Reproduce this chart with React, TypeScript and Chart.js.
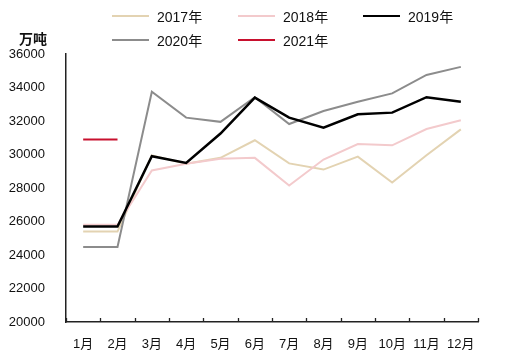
import React, { useEffect, useRef } from "react";
import { Chart, registerables } from "chart.js";

Chart.register(...registerables);

const months = ["1月", "2月", "3月", "4月", "5月", "6月", "7月", "8月", "9月", "10月", "11月", "12月"];
const y2017 = [25400, 25400, 29950, 29450, 29800, 30850, 29470, 29100, 29870, 28330, 29950, 31500];
const y2018 = [25800, 25800, 29050, 29450, 29750, 29800, 28150, 29700, 30620, 30550, 31520, 32050];
const y2019 = [25700, 25700, 29900, 29500, 31250, 33400, 32200, 31600, 32400, 32500, 33420, 33150];
const y2020 = [24480, 24480, 33750, 32200, 31950, 33420, 31820, 32600, 33150, 33650, 34750, 35230];
const y2021 = [30900, 30900];
const yTicks = [20000, 22000, 24000, 26000, 28000, 30000, 32000, 34000, 36000];

const seriesNames = ["2017年", "2018年", "2019年", "2020年", "2021年"];
const seriesColors = ["#E3D3B2", "#F3CACC", "#000000", "#8C8C8C", "#C8102E"];
const seriesWidths = [2, 2, 2.5, 2, 2];
const seriesData = [y2017, y2018, y2019, y2020, y2021];
const seriesOrder = [5, 4, 2, 3, 1];

const tickMarks = {
  id: "tickMarks",
  afterDraw(chart: any) {
    const x = chart.scales.x;
    const ctx = chart.ctx;
    const bottom = chart.chartArea.bottom;
    const n = months.length;
    const step = x.getPixelForValue(1) - x.getPixelForValue(0);
    ctx.save();
    ctx.strokeStyle = "#222";
    ctx.lineWidth = 1.3;
    ctx.beginPath();
    for (let i = 0; i <= n; i++) {
      const px = Math.round(x.getPixelForValue(0) - step / 2 + i * step) + 0.5;
      ctx.moveTo(px, bottom);
      ctx.lineTo(px, bottom - 4);
    }
    ctx.stroke();
    ctx.restore();
  },
};

export default function App() {
  const ref = useRef<HTMLCanvasElement>(null);
  useEffect(() => {
    const chart = new Chart(ref.current as HTMLCanvasElement, {
      type: "line",
      data: {
        labels: months,
        datasets: seriesData.map((d, i) => ({
          label: seriesNames[i],
          data: d,
          borderColor: seriesColors[i],
          backgroundColor: seriesColors[i],
          borderWidth: seriesWidths[i],
          pointRadius: 0,
          tension: 0,
          fill: false,
          order: seriesOrder[i],
        })),
      },
      options: {
        animation: false,
        responsive: false,
        maintainAspectRatio: false,
        layout: { padding: { top: 54, right: 29, left: 0, bottom: 0 } },
        plugins: { legend: { display: false }, tooltip: { enabled: false } },
        scales: {
          x: {
            type: "category",
            offset: true,
            grid: { display: false, offset: true },
            border: { display: true, color: "#222", width: 1.5 },
            ticks: {
              color: "#111",
              padding: 7,
              maxRotation: 0,
              autoSkip: false,
              font: { family: "'Liberation Sans', 'Noto Sans CJK SC', sans-serif", size: 13 },
            },
            afterFit(s: any) {
              s.height = 35;
            },
          },
          y: {
            min: 20000,
            max: 36000,
            afterBuildTicks(s: any) {
              s.ticks = yTicks.map((v) => ({ value: v }));
            },
            grid: { display: false },
            border: { display: true, color: "#222", width: 1.5 },
            ticks: {
              color: "#111",
              padding: 13,
              font: { family: "'Liberation Sans', sans-serif", size: 13 },
              callback: (v: any) => String(v),
            },
            afterFit(s: any) {
              s.width = 66;
            },
          },
        },
      },
      plugins: [tickMarks],
    });
    return () => chart.destroy();
  }, []);

  const legendPos = [
    { x: 112, y: 16 },
    { x: 238, y: 16 },
    { x: 363, y: 16 },
    { x: 112, y: 40 },
    { x: 238, y: 40 },
  ];

  return (
    <div style={{ position: "fixed", left: 0, top: 0, width: 507, height: 357, background: "#fff" }}>
      <canvas ref={ref} width={507} height={357} style={{ position: "absolute", left: 0, top: 0 }} />
      <div
        style={{
          position: "absolute",
          left: 19,
          top: 29,
          fontFamily: "'Noto Sans CJK SC', sans-serif",
          fontWeight: "bold",
          fontSize: 14,
          lineHeight: "18px",
          color: "#111",
        }}
      >
        万吨
      </div>
      {seriesNames.map((n, i) => (
        <div
          key={n}
          style={{
            position: "absolute",
            left: legendPos[i].x,
            top: legendPos[i].y - 10,
            height: 20,
            display: "flex",
            alignItems: "center",
            fontFamily: "'Liberation Sans', 'Noto Sans CJK SC', sans-serif",
            fontSize: 14,
            color: "#111",
            whiteSpace: "nowrap",
          }}
        >
          <span
            style={{
              display: "inline-block",
              width: 37,
              height: seriesWidths[i],
              background: seriesColors[i],
              marginRight: 8,
            }}
          />
          {n}
        </div>
      ))}
    </div>
  );
}
